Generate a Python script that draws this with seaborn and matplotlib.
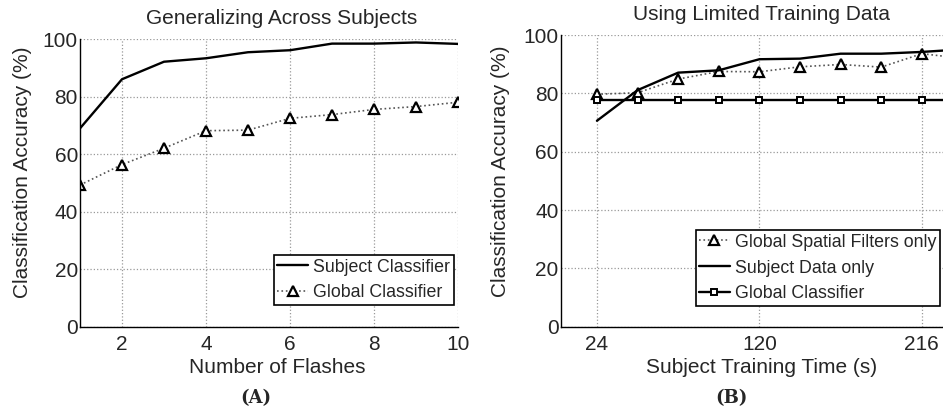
import pandas as pd
import matplotlib
matplotlib.use("Agg")
import matplotlib.pyplot as plt
import seaborn as sns

# Panel A: generalizing across subjects
flashes = [1, 2, 3, 4, 5, 6, 7, 8, 9, 10]
subject_clf = [69.0, 86.1, 92.2, 93.4, 95.5, 96.2, 98.5, 98.5, 98.9, 98.4]
global_clf_a = [49.3, 56.4, 62.1, 68.2, 68.4, 72.5, 73.8, 75.6, 76.6, 78.1]

# Panel B: limited training data
train_time = [24, 48, 72, 96, 120, 144, 168, 192, 216, 240]
global_spatial = [79.7, 80.2, 84.9, 87.5, 87.4, 89.1, 89.9, 89.0, 93.6, 92.0]
subject_only = [70.6, 81.1, 87.1, 87.9, 91.7, 91.9, 93.6, 93.6, 94.2, 95.1]
global_clf_b = [77.8, 77.8, 77.8, 77.8, 77.8, 77.8, 77.8, 77.8, 77.8, 77.8]

sns.set_style("white")
plt.rcParams["font.family"] = ["Liberation Sans", "DejaVu Sans"]
plt.rcParams["xtick.direction"] = "in"
plt.rcParams["ytick.direction"] = "in"

fig = plt.figure(figsize=(9.43, 4.12), dpi=100)
ax1 = fig.add_axes([0.0848, 0.2070, 0.4009, 0.6976])
ax2 = fig.add_axes([0.5946, 0.2070, 0.4637, 0.7080])

tri = dict(marker="^", markersize=6.5, markerfacecolor="white",
           markeredgecolor="black", markeredgewidth=1.6)

leg_kw = dict(fontsize=12.8, frameon=True, fancybox=False, framealpha=1,
              edgecolor="black", handlelength=1.7, labelspacing=0.5,
              borderpad=0.2, handletextpad=0.3, borderaxespad=0)

# --- (A)
sns.lineplot(x=flashes, y=subject_clf, ax=ax1, color="black", lw=1.7,
             label="Subject Classifier")
sns.lineplot(x=flashes, y=global_clf_a, ax=ax1, color="#555555", lw=1.2,
             linestyle=":", label="Global Classifier", **tri)
ax1.set_xlim(1, 10)
ax1.set_xticks([2, 4, 6, 8, 10])
ax1.set_title("Generalizing Across Subjects", fontsize=15, x=0.534, pad=11)
ax1.set_xlabel("Number of Flashes", fontsize=15, labelpad=3)
ax1.set_ylabel("Classification Accuracy (%)", fontsize=15)
ax1.xaxis.label.set_x(0.521)
ax1.yaxis.set_label_coords(-0.128, 0.537)
leg1 = ax1.legend(loc="lower left", bbox_to_anchor=(0.513, 0.0755), **leg_kw)

# --- (B)
sns.lineplot(x=train_time, y=global_spatial, ax=ax2, color="#555555", lw=1.2,
             linestyle=":", label="Global Spatial Filters only", **tri)
sns.lineplot(x=train_time, y=subject_only, ax=ax2, color="black", lw=1.7,
             label="Subject Data only")
sns.lineplot(x=train_time, y=global_clf_b, ax=ax2, color="black", lw=1.7,
             marker="s", markersize=4, markerfacecolor="white",
             markeredgecolor="black", markeredgewidth=1.4,
             label="Global Classifier")
ax2.set_xlim(2.6, 261)
ax2.set_xticks([24, 120, 216])
ax2.set_title("Using Limited Training Data", fontsize=15, x=0.46, pad=11)
ax2.set_xlabel("Subject Training Time (s)", fontsize=15, labelpad=3)
ax2.set_ylabel("Classification Accuracy (%)", fontsize=15)
ax2.xaxis.label.set_x(0.46)
ax2.yaxis.set_label_coords(-0.116, 0.534)
leg2 = ax2.legend(loc="lower left", bbox_to_anchor=(0.309, 0.071), **leg_kw)

for leg in (leg1, leg2):
    leg.get_frame().set_linewidth(1.2)

for ax in (ax1, ax2):
    ax.set_ylim(0, 100)
    ax.set_yticks(range(0, 101, 20))
    ax.grid(True, linestyle=":", color="#999999", lw=0.9)
    ax.tick_params(labelsize=15, length=4, color="black")
    ax.tick_params(axis="y", pad=1.5)
    ax.tick_params(axis="x", pad=6)
    for s in ("top", "right"):
        ax.spines[s].set_visible(False)
    for s in ("left", "bottom"):
        ax.spines[s].set_color("black")
        ax.spines[s].set_linewidth(1.0)

fig.text(0.2715, 0.034, "(A)", fontsize=13, fontweight="bold",
         family="DejaVu Serif", ha="center", va="center")
fig.text(0.776, 0.034, "(B)", fontsize=13, fontweight="bold",
         family="DejaVu Serif", ha="center", va="center")

fig.savefig("out.png", dpi=100)
